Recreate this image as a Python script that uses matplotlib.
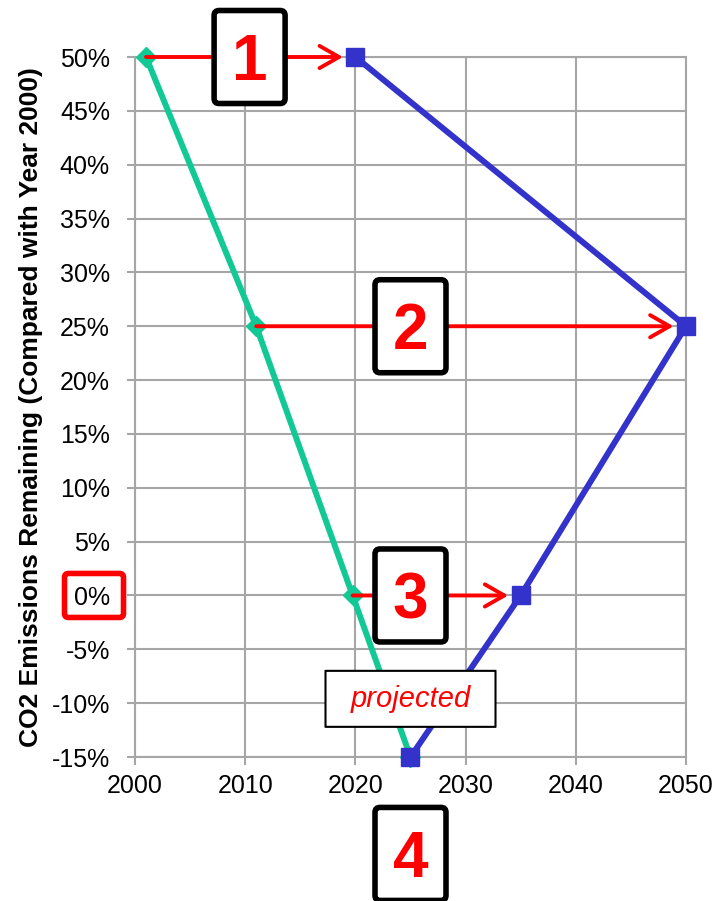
import matplotlib
matplotlib.use('Agg')
import matplotlib.pyplot as plt
from matplotlib import transforms
from matplotlib.patches import FancyBboxPatch

plt.rcParams['font.family'] = ['Liberation Sans', 'DejaVu Sans']

# data
green_years = [2001, 2011, 2019.75, 2025]
green_share = [50, 25, 0, -15]
blue_years = [2020, 2050, 2035, 2025]
blue_share = [50, 25, 0, -15]

# numbered callouts and note
box_labels = ['1', '2', '3', '4']
box_x = [2010.4, 2025, 2025, 2025]
box_y = [50, 25, 0, -24]
note_text = 'projected'
note_x, note_y = 2025, -9.6

x_ticks = [2000, 2010, 2020, 2030, 2040, 2050]
y_ticks = [-15, -10, -5, 0, 5, 10, 15, 20, 25, 30, 35, 40, 45, 50]
y_tick_labels = ['%d%%' % v for v in y_ticks]
y_label = 'CO2 Emissions Remaining (Compared with Year 2000)'

GRID = '#A6A6A6'
GREEN = '#12C996'
BLUE = '#3333CC'
RED = '#FF0000'

fig = plt.figure(figsize=(7.17, 9.01), dpi=100)
ax = fig.add_axes([0.18828, 0.15982, 0.76848, 0.77691])
ax.set_xlim(2000, 2050)
ax.set_ylim(-15, 50)
ax.set_xticks(x_ticks)
ax.set_yticks(y_ticks, labels=y_tick_labels)
ax.set_axisbelow(True)
ax.grid(True, color=GRID, lw=1.5)
for s in ax.spines.values():
    s.set_color(GRID)
    s.set_linewidth(1.5)
ax.tick_params(axis='both', direction='out', length=6, width=1.5, color=GRID, labelsize=18)
ax.tick_params(axis='x', pad=6)
ax.tick_params(axis='y', pad=12)
ax.set_ylabel(y_label, fontsize=19, fontweight='bold')
ax.yaxis.set_label_coords(-0.167, 0.5)

# series
ax.plot(green_years, green_share, color=GREEN, lw=4.3, marker='D', ms=10, zorder=3, clip_on=False)
ax.plot(blue_years, blue_share, color=BLUE, lw=4.3, marker='s', ms=12.5, zorder=3, clip_on=False)

# red arrows from green to blue points
for i in range(3):
    ax.annotate('', xy=(blue_years[i], blue_share[i]), xytext=(green_years[i], green_share[i]),
                arrowprops=dict(arrowstyle='->,head_length=1.4,head_width=0.8', color=RED, lw=2.8,
                                shrinkA=0, shrinkB=9),
                zorder=5, annotation_clip=False)


def fixed_box(x, y, w, h, base, lw, rounding, ec='black', fc='white', z=6):
    trans = fig.dpi_scale_trans + transforms.ScaledTranslation(x, y, base)
    p = FancyBboxPatch((-w / 2, -h / 2), w, h,
                       boxstyle='round,pad=0,rounding_size=%g' % rounding,
                       transform=trans, fc=fc, ec=ec, lw=lw, zorder=z, clip_on=False)
    ax.add_artist(p)


for lab, bx, by in zip(box_labels, box_x, box_y):
    fixed_box(bx, by, 0.71, 0.93, ax.transData, 4, 0.05)
    fs = 46
    ax.annotate(lab, xy=(bx, by), xytext=(0, -0.36 * fs), textcoords='offset points',
                ha='center', va='baseline', fontsize=fs, fontweight='bold', color=RED,
                zorder=7, annotation_clip=False)

# "projected" note
fixed_box(note_x, note_y, 1.70, 0.56, ax.transData, 1.5, 0.001)
ax.text(note_x, note_y, note_text, ha='center', va='center', fontsize=21, style='italic',
        color=RED, zorder=7)

# red frame around the 0% tick label
blend = transforms.blended_transform_factory(ax.transAxes, ax.transData)
fixed_box(-0.0744, 0, 0.59, 0.44, blend, 4, 0.04, ec=RED, fc='none')

fig.savefig('out.png', dpi=100)
